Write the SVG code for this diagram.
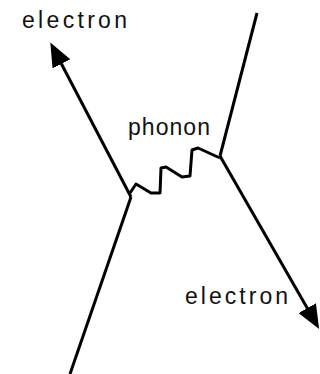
<svg xmlns="http://www.w3.org/2000/svg" width="320" height="374" viewBox="0 0 320 374">
<style>
.ln{fill:none;stroke:#000;stroke-width:3;stroke-linejoin:round;stroke-linecap:butt}
.lbl{font-family:"Liberation Sans",Arial,sans-serif;font-size:23px;fill:#111}
</style>
<defs>
<marker id="ah" viewBox="0 0 24 20" refX="10" refY="10" markerWidth="24" markerHeight="20" markerUnits="userSpaceOnUse" orient="auto">
<path d="M0,0 L24,10 L0,20 Z" fill="#000"/>
</marker>
</defs>
<rect width="320" height="374" fill="#fff"/>
<g id="connectors">
<path id="e-in-left" class="ln" d="M70,374 L131,197"/>
<path id="e-out-left" class="ln" d="M131,197 L56.8,55" marker-end="url(#ah)"/>
<path id="e-in-right" class="ln" d="M257,13 L220,156"/>
<path id="e-out-right" class="ln" d="M220,156 L312.2,316.8" marker-end="url(#ah)"/>
<path id="phonon-line" class="ln" d="M130,193 L136,184 L151,193 L160,193 L161,168 L166,167 L182,177 L190,176 L192,150 L198,148 L220,158"/>
</g>
<g id="label-electron-top"><text class="lbl" x="22" y="28" textLength="105" lengthAdjust="spacing">electron</text></g>
<g id="label-phonon"><text class="lbl" x="128" y="135" textLength="82" lengthAdjust="spacing">phonon</text></g>
<g id="label-electron-bottom"><text class="lbl" x="185" y="304" textLength="103" lengthAdjust="spacing">electron</text></g>
</svg>
